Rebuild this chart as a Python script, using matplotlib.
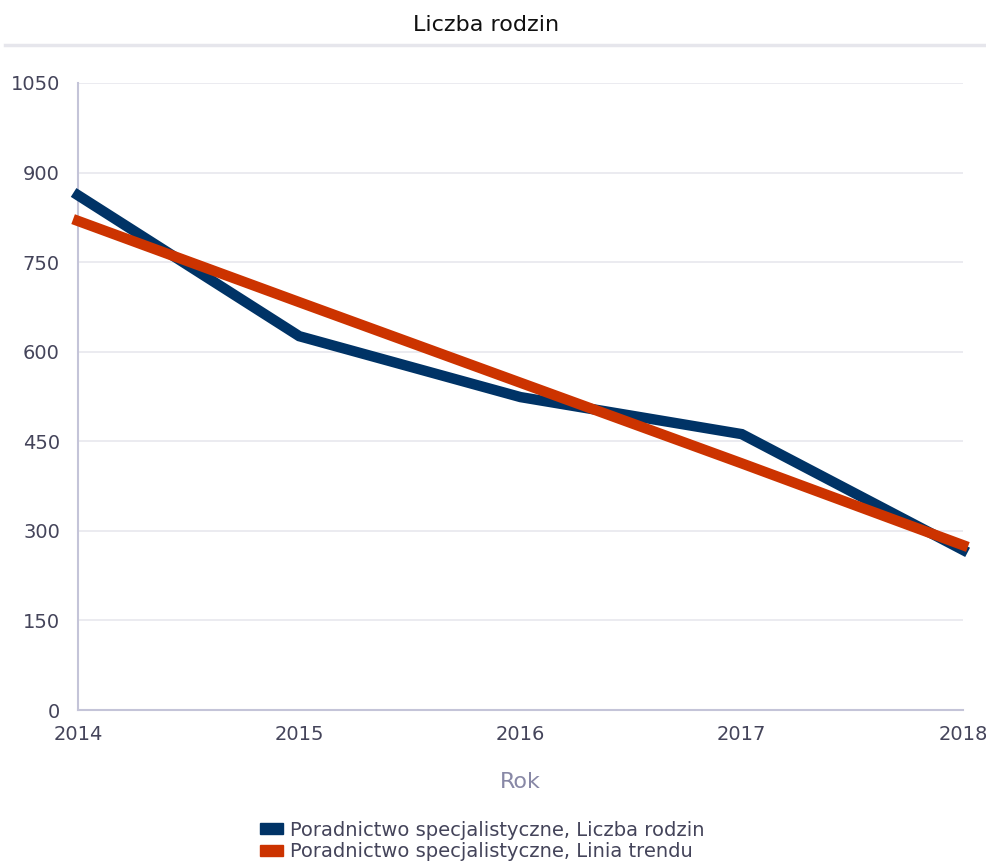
import matplotlib
matplotlib.use("Agg")
import matplotlib.pyplot as plt
from matplotlib.patches import Patch
from matplotlib.lines import Line2D

years = [2014, 2015, 2016, 2017, 2018]
families = [862, 626, 524, 462, 268]
trend = [819, 683, 548, 413, 276]
yticks = [0, 150, 300, 450, 600, 750, 900, 1050]

label_families = "Poradnictwo specjalistyczne, Liczba rodzin"
label_trend = "Poradnictwo specjalistyczne, Linia trendu"

blue = "#003366"
red = "#cc3300"
text_col = "#44445a"

fig = plt.figure(figsize=(9.87, 8.66), dpi=100)
ax = fig.add_axes([78/987, 1 - 710/866, (963-78)/987, (710-83)/866])

ax.plot(years, families, color=blue, lw=7.5, solid_joinstyle="miter", zorder=3, clip_on=False)
ax.plot(years, trend, color=red, lw=7.5, zorder=4, clip_on=False)

ax.set_xlim(2014, 2018)
ax.set_ylim(0, 1050)
ax.set_xticks(years)
ax.set_yticks(yticks)
ax.grid(axis="y", color="#e8e8ee", lw=1.2)
ax.set_axisbelow(True)
for s in ["top", "right"]:
    ax.spines[s].set_visible(False)
ax.spines["left"].set_color("#c4c4d8")
ax.spines["left"].set_linewidth(1.5)
ax.spines["bottom"].set_color("#c4c4d8")
ax.spines["bottom"].set_linewidth(1.5)
ax.tick_params(axis="both", length=0, labelsize=14, labelcolor=text_col)
ax.tick_params(axis="x", pad=11)
ax.tick_params(axis="y", pad=13)
ax.set_xlabel("Rok", fontsize=16, color="#8888a6", labelpad=20)

fig.text(486/987, 1 - 25/866, "Liczba rodzin", ha="center", va="center", fontsize=16, color="#111111")
fig.add_artist(Line2D([5/987, 1], [1 - 45/866, 1 - 45/866], color="#e6e6ec", lw=2.5))

handles = [Patch(color=blue, label=label_families), Patch(color=red, label=label_trend)]
fig.legend(handles=handles, loc="center", bbox_to_anchor=(482/987, 1 - 841/866), frameon=False,
           fontsize=14, labelcolor=text_col, handlelength=1.2, handleheight=0.5,
           handletextpad=0.35, labelspacing=0.15)

fig.savefig("out.png", dpi=100)
